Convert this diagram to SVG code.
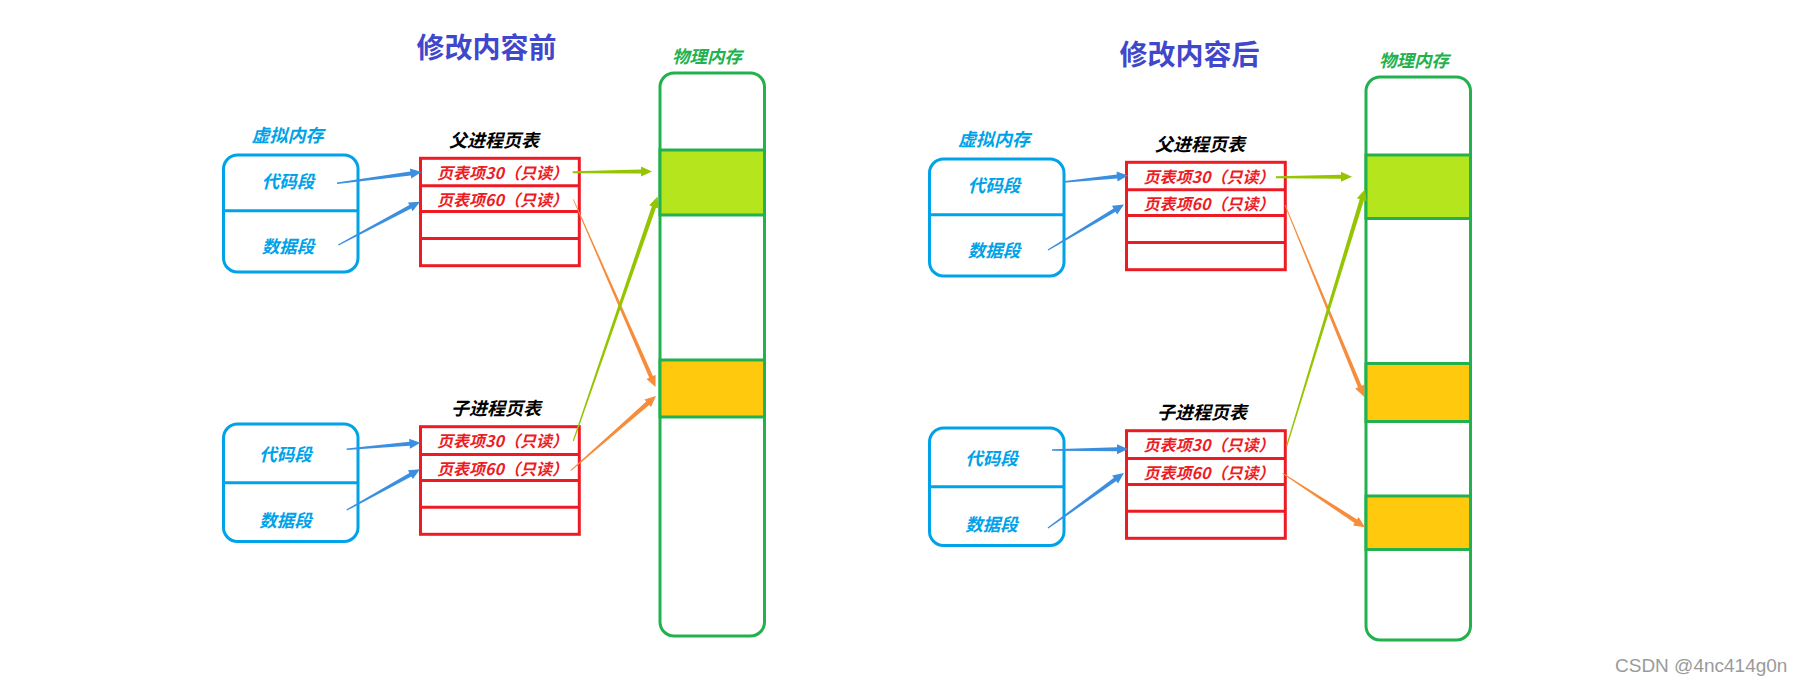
<svg xmlns="http://www.w3.org/2000/svg" width="1803" height="685" viewBox="0 0 1803 685">
<style>
text{font-family:"Noto Sans CJK SC","Noto Sans",sans-serif;font-weight:bold;font-style:italic;text-anchor:middle}
.title{font-size:28px;font-style:normal;fill:#3f48cc}
.memlbl{font-size:17.5px;fill:#22b14c}
.vmlbl{font-size:18px;fill:#00a2e8}
.seg{font-size:17.5px;fill:#00a2e8}
.hdr{font-size:18px;fill:#000}
.row{font-size:16px;fill:#ed1c24}
.vm{fill:#fff;stroke:#00a2e8;stroke-width:3}
.vml{stroke:#00a2e8;stroke-width:3}
.tbl{fill:#fff;stroke:#ed1c24;stroke-width:3}
.tbll{stroke:#ed1c24;stroke-width:3}
.mem{fill:#fff;stroke:#22b14c;stroke-width:3}
.lime{fill:#b5e61d;stroke:#22b14c;stroke-width:3}
.gold{fill:#ffc90e;stroke:#22b14c;stroke-width:3}
.ab{fill:#3c8fe0}
.ag{fill:#95c500}
.ao{fill:#f78c3b}
.wm{font-family:"Liberation Sans",Arial,sans-serif;font-weight:normal;font-style:normal;font-size:19px;fill:#9a9a9a;text-anchor:start}
</style>
<rect width="1803" height="685" fill="#fff"/>

<g id="title-before"><text class="title" x="486.5" y="57.5">修改内容前</text></g>
<g id="title-after"><text class="title" x="1189.5" y="64.5">修改内容后</text></g>

<!-- LEFT: before -->
<g id="vm-label-l"><text class="vmlbl" x="287.5" y="141.5">虚拟内存</text></g>
<g id="vm-parent-l">
<rect class="vm" x="223.5" y="155" width="134.5" height="117" rx="14"/>
<line class="vml" x1="223.5" y1="210.7" x2="358" y2="210.7"/>
<text class="seg" x="288" y="188">代码段</text>
<text class="seg" x="288" y="253">数据段</text>
</g>
<g id="vm-child-l">
<rect class="vm" x="223.5" y="424" width="134.5" height="117.5" rx="14"/>
<line class="vml" x1="223.5" y1="482.7" x2="358" y2="482.7"/>
<text class="seg" x="285.6" y="461">代码段</text>
<text class="seg" x="285.6" y="526.5">数据段</text>
</g>
<g id="pt-parent-l">
<text class="hdr" x="494" y="146.5">父进程页表</text>
<rect class="tbl" x="420.5" y="158.3" width="158.8" height="107.4"/>
<line class="tbll" x1="420.5" y1="185.7" x2="579.3" y2="185.7"/>
<line class="tbll" x1="420.5" y1="211.5" x2="579.3" y2="211.5"/>
<line class="tbll" x1="420.5" y1="238.5" x2="579.3" y2="238.5"/>
<text class="row" x="502.5" y="178.5">页表项30（只读）</text>
<text class="row" x="502.5" y="205.5">页表项60（只读）</text>
</g>
<g id="pt-child-l">
<text class="hdr" x="496" y="415">子进程页表</text>
<rect class="tbl" x="420.5" y="426.7" width="158.8" height="107.6"/>
<line class="tbll" x1="420.5" y1="454.5" x2="579.3" y2="454.5"/>
<line class="tbll" x1="420.5" y1="480.5" x2="579.3" y2="480.5"/>
<line class="tbll" x1="420.5" y1="507.3" x2="579.3" y2="507.3"/>
<text class="row" x="502.5" y="447">页表项30（只读）</text>
<text class="row" x="502.5" y="475">页表项60（只读）</text>
</g>
<g id="phys-l">
<text class="memlbl" x="707" y="63">物理内存</text>
<rect class="mem" x="660" y="73" width="104.5" height="563" rx="14"/>
<rect class="lime" x="660" y="150" width="104.5" height="65"/>
<rect class="gold" x="660" y="360" width="104.5" height="57"/>
</g>

<!-- RIGHT: after -->
<g id="vm-label-r"><text class="vmlbl" x="994" y="145.5">虚拟内存</text></g>
<g id="vm-parent-r" transform="translate(706,4)">
<rect class="vm" x="223.5" y="155" width="134.5" height="117" rx="14"/>
<line class="vml" x1="223.5" y1="210.7" x2="358" y2="210.7"/>
<text class="seg" x="288" y="188">代码段</text>
<text class="seg" x="288" y="253">数据段</text>
</g>
<g id="vm-child-r" transform="translate(706,4)">
<rect class="vm" x="223.5" y="424" width="134.5" height="117.5" rx="14"/>
<line class="vml" x1="223.5" y1="482.7" x2="358" y2="482.7"/>
<text class="seg" x="285.6" y="461">代码段</text>
<text class="seg" x="285.6" y="526.5">数据段</text>
</g>
<g id="pt-parent-r" transform="translate(706,4)">
<text class="hdr" x="494" y="146.5">父进程页表</text>
<rect class="tbl" x="420.5" y="158.3" width="158.8" height="107.4"/>
<line class="tbll" x1="420.5" y1="185.7" x2="579.3" y2="185.7"/>
<line class="tbll" x1="420.5" y1="211.5" x2="579.3" y2="211.5"/>
<line class="tbll" x1="420.5" y1="238.5" x2="579.3" y2="238.5"/>
<text class="row" x="503" y="178.5">页表项30（只读）</text>
<text class="row" x="503" y="205.5">页表项60（只读）</text>
</g>
<g id="pt-child-r" transform="translate(706,4)">
<text class="hdr" x="496" y="415">子进程页表</text>
<rect class="tbl" x="420.5" y="426.7" width="158.8" height="107.6"/>
<line class="tbll" x1="420.5" y1="454.5" x2="579.3" y2="454.5"/>
<line class="tbll" x1="420.5" y1="480.5" x2="579.3" y2="480.5"/>
<line class="tbll" x1="420.5" y1="507.3" x2="579.3" y2="507.3"/>
<text class="row" x="503" y="447">页表项30（只读）</text>
<text class="row" x="503" y="475">页表项60（只读）</text>
</g>
<g id="phys-r">
<text class="memlbl" x="1414" y="67">物理内存</text>
<rect class="mem" x="1366" y="77" width="104.5" height="563" rx="14"/>
<rect class="lime" x="1366" y="155" width="104.5" height="63.5"/>
<rect class="gold" x="1366" y="363.5" width="104.5" height="58"/>
<rect class="gold" x="1366" y="496" width="104.5" height="53.5"/>
</g>

<g id="connectors">
<!-- left -->
<polygon class="ab" transform="translate(337 183.3) rotate(-7.62)" points="0,-0.7 74.25,-2 74.25,-5 85.25,0 74.25,5 74.25,2 0,0.7"/>
<polygon class="ab" transform="translate(338.3 245) rotate(-27.92)" points="0,-0.7 81.47,-2 81.47,-5 92.47,0 81.47,5 81.47,2 0,0.7"/>
<polygon class="ab" transform="translate(346.7 449.3) rotate(-5.11)" points="0,-0.7 63.09,-2 63.09,-5 74.09,0 63.09,5 63.09,2 0,0.7"/>
<polygon class="ab" transform="translate(346.7 510) rotate(-29.04)" points="0,-0.7 72.84,-2 72.84,-5 83.84,0 72.84,5 72.84,2 0,0.7"/>
<polygon class="ag" transform="translate(572.7 172.3) rotate(-0.58)" points="0,-1 68.3,-2 68.3,-5 79.3,0 68.3,5 68.3,2 0,1"/>
<polygon class="ao" transform="translate(573.3 199.3) rotate(66.35)" points="0,-0.4 193.91,-2 193.91,-5 204.91,0 193.91,5 193.91,2 0,0.4"/>
<polygon class="ag" transform="translate(573.3 441) rotate(-70.99)" points="0,-0.6 247.59,-2.2 247.59,-5 258.59,0 247.59,5 247.59,2.2 0,0.6"/>
<polygon class="ao" transform="translate(570.7 470.7) rotate(-41.21)" points="0,-0.5 102.39,-2.2 102.39,-5 113.39,0 102.39,5 102.39,2.2 0,0.5"/>
<!-- right -->
<polygon class="ab" transform="translate(1063 182) rotate(-5.71)" points="0,-0.7 54.32,-2 54.32,-5 65.32,0 54.32,5 54.32,2 0,0.7"/>
<polygon class="ab" transform="translate(1048 250) rotate(-30.91)" points="0,-0.7 77.58,-2 77.58,-5 88.58,0 77.58,5 77.58,2 0,0.7"/>
<polygon class="ab" transform="translate(1052 450) rotate(-0.75)" points="0,-0.7 65.01,-2 65.01,-5 76.01,0 65.01,5 65.01,2 0,0.7"/>
<polygon class="ab" transform="translate(1048 528) rotate(-35.89)" points="0,-0.7 82.81,-2 82.81,-5 93.81,0 82.81,5 82.81,2 0,0.7"/>
<polygon class="ag" transform="translate(1276 177.3) rotate(-0.45)" points="0,-1 65,-2 65,-5 76,0 65,5 65,2 0,1"/>
<polygon class="ao" transform="translate(1285 205) rotate(67.6)" points="0,-0.4 196.34,-2 196.34,-5 207.34,0 196.34,5 196.34,2 0,0.4"/>
<polygon class="ag" transform="translate(1286.7 446) rotate(-73.04)" points="0,-0.6 257.38,-2.2 257.38,-5 268.38,0 257.38,5 257.38,2.2 0,0.6"/>
<polygon class="ao" transform="translate(1282.7 473.3) rotate(33.27)" points="0,-0.5 87.43,-2.2 87.43,-5 98.43,0 87.43,5 87.43,2.2 0,0.5"/>
</g>

<g id="watermark"><text class="wm" x="1615" y="672">CSDN @4nc414g0n</text></g>
</svg>
